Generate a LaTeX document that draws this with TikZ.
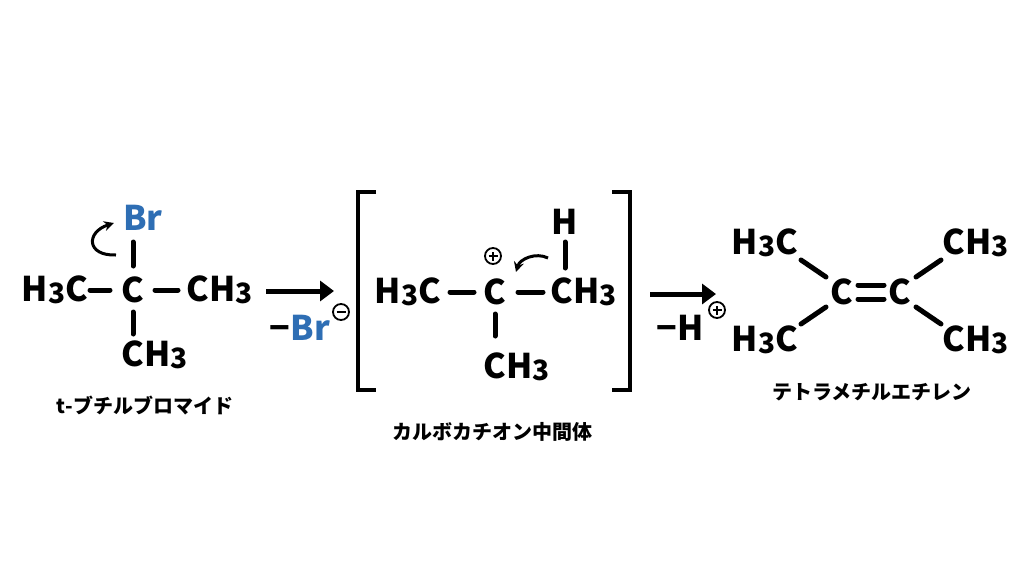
\documentclass[tikz,border=0pt]{standalone}
\usepackage{fontspec}
\setmainfont{Noto Sans CJK JP}
\usetikzlibrary{arrows.meta}
\definecolor{brblue}{RGB}{46,110,180}
\newcommand{\three}{\raisebox{-0.1ex}{\fontsize{28}{28}\selectfont 3}}
\newcommand{\chargeP}{\tikz[baseline=-0.6ex]{\draw[line width=1.8pt] (0,0) circle (8pt); \draw[line width=1.8pt] (-4.5pt,0) -- (4.5pt,0) (0,-4.5pt) -- (0,4.5pt);}}
\newcommand{\chargeM}{\tikz[baseline=-0.6ex]{\draw[line width=1.8pt] (0,0) circle (8pt); \draw[line width=1.8pt] (-4.5pt,0) -- (4.5pt,0);}}
\tikzset{
  atom/.style={font=\bfseries\fontsize{34}{34}\selectfont, inner sep=0pt},
  caption/.style={font=\bfseries\fontsize{20}{20}\selectfont, inner sep=0pt},
  bond/.style={line width=5pt, line cap=round},
  react/.style={line width=5pt, -{Triangle[length=14pt,width=20pt]}},
  curly/.style={line width=3pt, -{Stealth[length=10pt,width=10pt]}},
}
\begin{document}
\begin{tikzpicture}[x=1pt,y=-1pt]
  \useasboundingbox (0,0) rectangle (1024,576);
  % t-butyl bromide
  \node[atom] (a1) at (55,290) {H\three C};
  \node[atom] (c1) at (133,290) {C};
  \node[atom] (a2) at (220,290) {CH\three};
  \node[atom, text=brblue] (br) at (143,218) {Br};
  \node[atom] (a3) at (155,355) {CH\three};
  \draw[bond] (90,290) -- (110,290);
  \draw[bond] (155,290) -- (178,290);
  \draw[bond] (133,242) -- (133,266);
  \draw[bond] (133,312) -- (133,334);
  \draw[curly] (116,255) .. controls (86,256) and (86,232) .. (114,223);
  \node[caption] (n1) at (145,406) {\textit{t}-ブチルブロマイド};
  % step 1
  \draw[react] (266,291) -- (334,291);
  \node[atom] (lbr) at (300,328) {−\textcolor{brblue}{Br}};
  \node (lm) at (341,312) {\chargeM};
  % carbocation
  \draw[line width=4pt] (376,192) -- (358,192) -- (358,390) -- (376,390);
  \draw[line width=4pt] (612,192) -- (630,192) -- (630,390) -- (612,390);
  \node[atom] (b1) at (408,292) {H\three C};
  \node[atom] (c2) at (495,292) {C};
  \node[atom] (b2) at (584,292) {CH\three};
  \node[atom] (h1) at (565,222) {H};
  \node[atom] (b3) at (517,367) {CH\three};
  \node (bp) at (493,256) {\chargeP};
  \draw[bond] (450,292) -- (474,292);
  \draw[bond] (518,292) -- (543,292);
  \draw[bond] (565,242) -- (565,268);
  \draw[bond] (495,314) -- (495,336);
  \draw[curly] (548,258) to[bend right=50] (516,272);
  \node[caption] (n2) at (492,432) {カルボカチオン中間体};
  % step 2
  \draw[react] (650,294) -- (716,294);
  \node[atom] (lh) at (680,328) {−H};
  \node (hp) at (717,310) {\chargeP};
  % tetramethylethylene
  \node[atom] (d1) at (765,243) {H\three C};
  \node[atom] (d2) at (765,340) {H\three C};
  \node[atom] (c3) at (842,292) {C};
  \node[atom] (c4) at (900,292) {C};
  \node[atom] (d3) at (976,243) {CH\three};
  \node[atom] (d4) at (976,340) {CH\three};
  \draw[bond] (858,285) -- (884,285) (858,299) -- (884,299);
  \draw[bond] (801,260) -- (826,277);
  \draw[bond] (801,324) -- (826,307);
  \draw[bond] (916,277) -- (941,260);
  \draw[bond] (916,307) -- (941,324);
  \node[caption] (n3) at (872,392) {テトラメチルエチレン};
\end{tikzpicture}
\end{document}
